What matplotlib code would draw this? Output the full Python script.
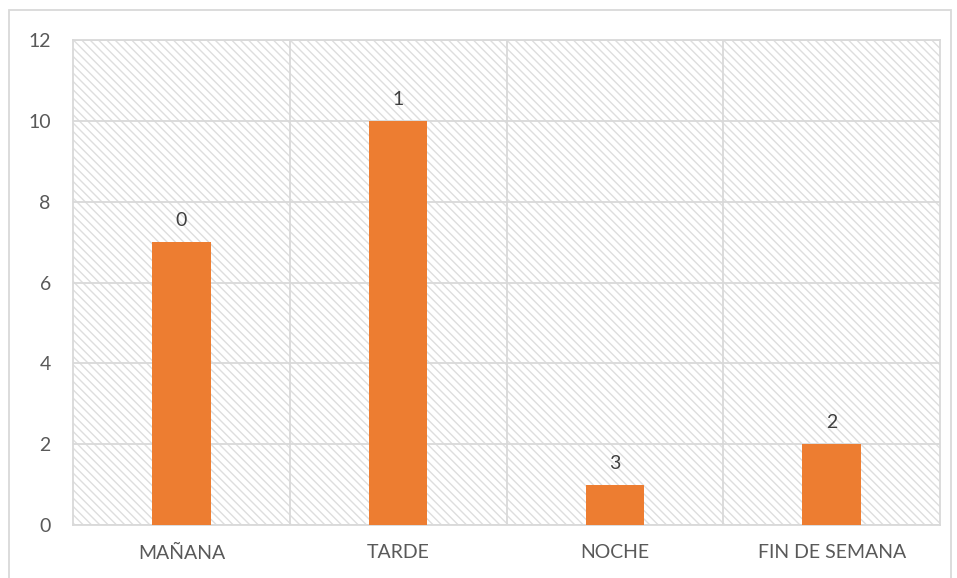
import matplotlib.pyplot as plt
import matplotlib.patches as mpatches

categories = ['MAÑANA', 'TARDE', 'NOCHE', 'FIN DE SEMANA']
values = [7, 10, 1, 2]
bar_labels = ['0', '1', '3', '2']

plt.rcParams['font.family'] = ['Lato', 'DejaVu Sans']
plt.rcParams['hatch.linewidth'] = 1.0

fig = plt.figure(figsize=(9.57, 5.78), dpi=100)
ax = fig.add_axes([73 / 957, 1 - 525 / 578, (940 - 73) / 957, (525 - 40) / 578])

# hatched plot area background
bg = mpatches.Rectangle((0, 0), 1, 1, transform=ax.transAxes, facecolor='white',
                        edgecolor='#dedede', hatch='\\\\\\\\', linewidth=0, zorder=0)
ax.add_patch(bg)

x = range(len(categories))
bars = ax.bar(x, values, width=0.27, color='#ed7d31', zorder=3)
for b, lab in zip(bars, bar_labels):
    ax.text(b.get_x() + b.get_width() / 2, b.get_height() + 0.32, lab,
            ha='center', va='bottom', fontsize=14, color='#404040', zorder=4)

ax.set_xlim(-0.5, 3.5)
ax.set_ylim(0, 12)
ax.set_yticks(range(0, 13, 2))
ax.set_xticks(list(x))
ax.set_xticklabels(categories)
ax.set_xticks([0.5, 1.5, 2.5], minor=True)
ax.grid(axis='y', color='#d9d9d9', linewidth=1.3, zorder=1)
ax.grid(axis='x', which='minor', color='#d9d9d9', linewidth=1.3, zorder=1)
ax.tick_params(axis='both', which='both', length=0, labelsize=14, colors='#595959')
ax.tick_params(axis='x', pad=14)
ax.tick_params(axis='y', pad=16)
for s in ax.spines.values():
    s.set_color('#d9d9d9')
    s.set_linewidth(1.3)

# outer chart border
fig.patches.append(mpatches.Rectangle((9 / 957, -0.01), 942 / 957, 1.01 - 10 / 578,
                                      transform=fig.transFigure, fill=False,
                                      edgecolor='#d9d9d9', linewidth=1.3))

fig.savefig('out.png', dpi=100)
